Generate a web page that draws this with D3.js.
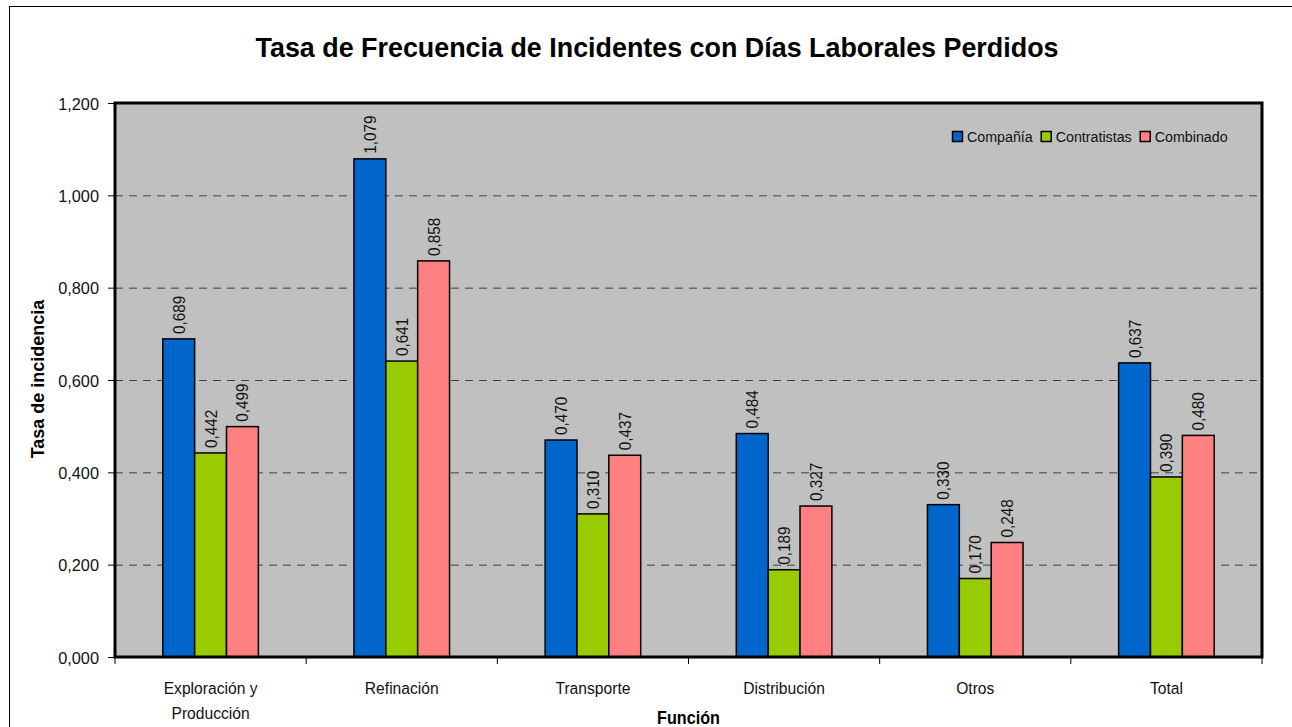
<!DOCTYPE html>
<html>
<head>
<meta charset="utf-8">
<script src="https://cdn.jsdelivr.net/npm/d3@7"></script>
<style>
  body { margin: 0; background: #fff; }
  svg { display: block; font-family: "Liberation Sans", Arial, sans-serif; }
  .grid line { stroke: #404040; stroke-dasharray: 8,6; }
  .axis text { font-size: 17px; fill: #111; }
</style>
</head>
<body>
<svg id="chart" width="1292" height="727"></svg>
<script>
/* =======================
   DATA
======================= */
const categories = [["Exploración y", "Producción"], ["Refinación"], ["Transporte"], ["Distribución"], ["Otros"], ["Total"]];
const seriesNames = ["Compañía", "Contratistas", "Combinado"];
const seriesColors = ["#0066CC", "#99CC00", "#FF8080"];
const compania = [0.689, 1.079, 0.470, 0.484, 0.330, 0.637];
const contratistas = [0.442, 0.641, 0.310, 0.189, 0.170, 0.390];
const combinado = [0.499, 0.858, 0.437, 0.327, 0.248, 0.480];
const yTicks = [0, 0.2, 0.4, 0.6, 0.8, 1.0, 1.2];

const series = [compania, contratistas, combinado];
const fmt = v => d3.format(".3f")(v).replace(".", ",");

/* =======================
   CHART
======================= */
const svg = d3.select("#chart");
const plot = { left: 115, top: 103, right: 1262, bottom: 657 };
const narrow = 0.92; // squeeze text horizontally, the original uses a condensed face

// outer frame (runs off the page on right/bottom)
svg.append("rect")
    .attr("x", 9.5).attr("y", 6.5)
    .attr("width", 1300).attr("height", 740)
    .attr("fill", "#fff").attr("stroke", "#000").attr("stroke-width", 1);

svg.append("text")
    .attr("transform", `translate(657,57) scale(0.96,1)`)
    .attr("text-anchor", "middle")
    .attr("font-size", 28).attr("font-weight", "bold")
    .text("Tasa de Frecuencia de Incidentes con Días Laborales Perdidos");

const x0 = d3.scaleBand()
    .domain(d3.range(categories.length))
    .range([plot.left, plot.right]);

const x1 = d3.scaleBand()
    .domain(d3.range(series.length))
    .range([0, x0.bandwidth()])
    .paddingOuter(1.5);

const y = d3.scaleLinear().domain([0, 1.2]).range([plot.bottom, plot.top]);

// background
svg.append("rect")
    .attr("x", plot.left).attr("y", plot.top)
    .attr("width", plot.right - plot.left).attr("height", plot.bottom - plot.top)
    .attr("fill", "#C0C0C0");

// grid
svg.append("g").attr("class", "grid")
    .attr("transform", `translate(${plot.left},0)`)
    .call(d3.axisLeft(y).tickValues(yTicks.slice(1, -1)).tickSize(-(plot.right - plot.left)).tickFormat(""))
    .call(g => g.select(".domain").remove());

// bars
const groups = svg.append("g").selectAll("g")
    .data(categories)
    .join("g")
    .attr("transform", (d, i) => `translate(${x0(i)},0)`);

groups.selectAll("rect")
    .data((d, i) => series.map((s, k) => ({ k, v: s[i] })))
    .join("rect")
    .attr("x", d => x1(d.k))
    .attr("y", d => y(d.v))
    .attr("width", x1.bandwidth())
    .attr("height", d => y(0) - y(d.v))
    .attr("fill", d => seriesColors[d.k])
    .attr("stroke", "#000").attr("stroke-width", 1.5);

groups.selectAll("text.val")
    .data((d, i) => series.map((s, k) => ({ k, v: s[i] })))
    .join("text")
    .attr("class", "val")
    .attr("transform", d => `translate(${x1(d.k) + x1.bandwidth() / 2 + 6},${y(d.v) - 5}) rotate(-90) scale(0.9,1)`)
    .attr("font-size", 17).attr("fill", "#111")
    .text(d => fmt(d.v));

// plot border
svg.append("rect")
    .attr("x", plot.left).attr("y", plot.top)
    .attr("width", plot.right - plot.left).attr("height", plot.bottom - plot.top)
    .attr("fill", "none").attr("stroke", "#000").attr("stroke-width", 3);

// y axis
svg.append("g").attr("class", "axis")
    .attr("transform", `translate(${plot.left},0)`)
    .call(d3.axisLeft(y).tickValues(yTicks).tickSize(7).tickPadding(4).tickFormat(fmt))
    .call(g => g.select(".domain").remove())
    .call(g => g.selectAll("text").attr("dy", "0.36em").attr("x", -16 / 0.96).attr("transform", "scale(0.96,1)"));

// x axis ticks at category boundaries
const xAxis = svg.append("g").attr("class", "axis")
    .attr("transform", `translate(0,${plot.bottom})`);
xAxis.selectAll("line")
    .data(d3.range(categories.length + 1))
    .join("line")
    .attr("x1", i => i < categories.length ? x0(i) : plot.right)
    .attr("x2", i => i < categories.length ? x0(i) : plot.right)
    .attr("y1", 0).attr("y2", 7)
    .attr("stroke", "#000");

xAxis.selectAll("text")
    .data(categories)
    .join("text")
    .attr("transform", (d, i) => `translate(${x0(i) + x0.bandwidth() / 2},37) scale(${narrow},1)`)
    .attr("text-anchor", "middle")
    .attr("font-size", 19)
    .selectAll("tspan")
    .data(d => d)
    .join("tspan")
    .attr("x", 0)
    .attr("dy", (d, j) => j === 0 ? 0 : 25)
    .text(d => d);

// axis titles
svg.append("text")
    .attr("transform", `translate(44,${(plot.top + plot.bottom) / 2 - 1}) rotate(-90)`)
    .attr("text-anchor", "middle")
    .attr("font-size", 18).attr("font-weight", "bold")
    .text("Tasa de incidencia");

svg.append("text")
    .attr("transform", `translate(${(plot.left + plot.right) / 2},724) scale(0.9,1)`)
    .attr("text-anchor", "middle")
    .attr("font-size", 18).attr("font-weight", "bold")
    .text("Función");

// legend
const legend = svg.append("g").attr("transform", "translate(952,142)");
let lx = 0;
seriesNames.forEach((name, k) => {
    const item = legend.append("g").attr("transform", `translate(${lx},0)`);
    item.append("rect")
        .attr("x", 0.5).attr("y", -10.5)
        .attr("width", 10).attr("height", 10)
        .attr("fill", seriesColors[k]).attr("stroke", "#000").attr("stroke-width", 1.5);
    const t = item.append("text")
        .attr("transform", `translate(15,0) scale(${narrow},1)`)
        .attr("font-size", 15.5).attr("fill", "#111")
        .text(name);
    lx += 15 + t.node().getComputedTextLength() * narrow + 8;
});
</script>
</body>
</html>
